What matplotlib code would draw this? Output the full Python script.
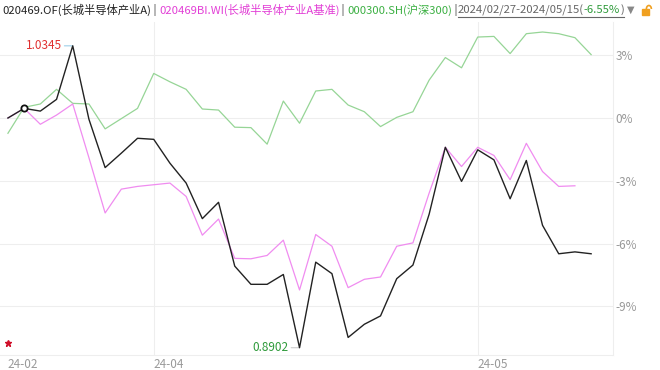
import matplotlib
matplotlib.use("Agg")
import matplotlib.pyplot as plt
from matplotlib.patches import Rectangle, Arc

plt.rcParams['font.family'] = ['Noto Sans CJK SC', 'DejaVu Sans']

# cumulative return (%) since 2024-02-27
fund = [0.0, 0.46, 0.33, 0.89, 3.45, -0.06, -2.37, -1.68, -0.97, -1.02,
        -2.16, -3.11, -4.81, -4.03, -7.08, -7.95, -7.95, -7.48, -10.98, -6.89,
        -7.44, -10.49, -9.86, -9.46, -7.68, -7.03, -4.60, -1.40, -3.03, -1.52,
        -2.00, -3.86, -2.03, -5.13, -6.49, -6.40, -6.49]
bench = [0.0, 0.46, -0.30, 0.14, 0.67, -1.90, -4.54, -3.40, -3.27, -3.19,
         -3.11, -3.75, -5.60, -4.83, -6.71, -6.73, -6.57, -5.84, -8.22, -5.57,
         -6.13, -8.11, -7.71, -7.60, -6.13, -5.97, -3.59, -1.40, -2.32, -1.40,
         -1.79, -2.95, -1.21, -2.56, -3.27, -3.24]
hs300 = [-0.73, 0.51, 0.67, 1.37, 0.70, 0.67, -0.52, -0.03, 0.46, 2.13,
         1.73, 1.37, 0.43, 0.38, -0.44, -0.46, -1.25, 0.81, -0.25, 1.29,
         1.37, 0.62, 0.30, -0.41, 0.03, 0.30, 1.81, 2.89, 2.40, 3.87,
         3.90, 3.08, 4.03, 4.11, 4.03, 3.84, 3.03]

x_ticks = [0, 9, 29]
x_labels = ['24-02', '24-04', '24-05']
y_ticks = [3, 0, -3, -6, -9]
nav_max = 1.0345
nav_min = 0.8902

header = [
    ("020469.OF(长城半导体产业A)", '#222222'),
    (" | ", '#444444'),
    ("020469BI.WI(长城半导体产业A基准)", '#e23fd6'),
    (" | ", '#444444'),
    ("000300.SH(沪深300)", '#3cb043'),
    (" |", '#444444'),
    ("2024/02/27-2024/05/15(", '#666666'),
    ("-6.55%", '#2e9a3a'),
    (")", '#666666'),
]

W, H = 660, 370
fig = plt.figure(figsize=(W / 100, H / 100), dpi=100)
ax = fig.add_axes([0, 15 / H, 613 / W, (355 - 22) / H])

xs = range(len(fund))
ax.plot(range(len(hs300)), hs300, color='#96d596', lw=0.9, zorder=3)
ax.plot(range(len(bench)), bench, color='#f08cf0', lw=0.9, zorder=4)
ax.plot(xs, fund, color='#222222', lw=1.0, zorder=5)

# start marker
ax.plot([1], [fund[1]], marker='o', ms=4.5, mfc='white', mec='#111111', mew=1.3, zorder=6)

# max / min labels
imax = fund.index(max(fund))
imin = fund.index(min(fund))
ax.annotate(f"{nav_max:.4f}", xy=(imax, fund[imax]), xytext=(-8, 0),
            textcoords='offset points', ha='right', va='center', fontsize=8.5,
            color='#e03030',
            arrowprops=dict(arrowstyle='-', color='#9ccfe8', lw=0.8, shrinkA=0, shrinkB=0))
ax.annotate(f"{nav_min:.4f}", xy=(imin, fund[imin]), xytext=(-8, 0),
            textcoords='offset points', ha='right', va='center', fontsize=8.5,
            color='#2e9a3a',
            arrowprops=dict(arrowstyle='-', color='#cccccc', lw=0.8, shrinkA=0, shrinkB=0))

ax.set_xlim(-0.49, 37.35)
ax.set_ylim((118 - 355) / 20.92, (118 - 22) / 20.92)

for v in y_ticks:
    ax.axhline(v, color='#eeeeee', lw=0.8, zorder=1)
for t in x_ticks[1:]:
    ax.axvline(t, color='#eeeeee', lw=0.8, zorder=1)

ax.set_xticks(x_ticks)
ax.set_xticklabels(x_labels, ha='left')
ax.set_yticks(y_ticks)
ax.set_yticklabels([f"{v}%" for v in y_ticks])
ax.yaxis.tick_right()
ax.tick_params(axis='both', length=0, labelsize=8.5, labelcolor='#999999')
ax.tick_params(axis='y', pad=2)
ax.tick_params(axis='x', pad=2)

for s in ['top', 'left']:
    ax.spines[s].set_visible(False)
for s in ['right', 'bottom']:
    ax.spines[s].set_color('#eeeeee')
    ax.spines[s].set_linewidth(0.8)

# little red star at bottom left
ax.plot([0.013], [0.036], marker='*', ms=5, color='#d0102a', transform=ax.transAxes,
        clip_on=False, zorder=6)

# header, drawn piece by piece
renderer = fig.canvas.get_renderer()
x = 2 / W
y = 1 - 10 / H
date_start = None
for txt, col in header:
    t = fig.text(x, y, txt, color=col, fontsize=8.15, va='center', ha='left')
    bb = t.get_window_extent(renderer)
    if txt.startswith("2024"):
        date_start = bb.x0
    x = bb.x1 / W
date_end = x * W
fig.add_artist(plt.Line2D([date_start / W, date_end / W], [1 - 17 / H, 1 - 17 / H],
                          color='#666666', lw=0.8))
fig.text(x + 3 / W, y, "▼", color='#888888', fontsize=7, va='center', ha='left',
         family='DejaVu Sans')
# lock icon
lx = x + 18 / W
fig.add_artist(Rectangle((lx, 1 - 15 / H), 7 / W, 6 / H, color='#f0a020',
                         transform=fig.transFigure))
fig.add_artist(Arc((lx + 7 / W, 1 - 9 / H), 5 / W, 7 / H, theta1=0, theta2=180,
                   color='#f0a020', lw=1.2, transform=fig.transFigure))

fig.savefig("out.png", dpi=100)
